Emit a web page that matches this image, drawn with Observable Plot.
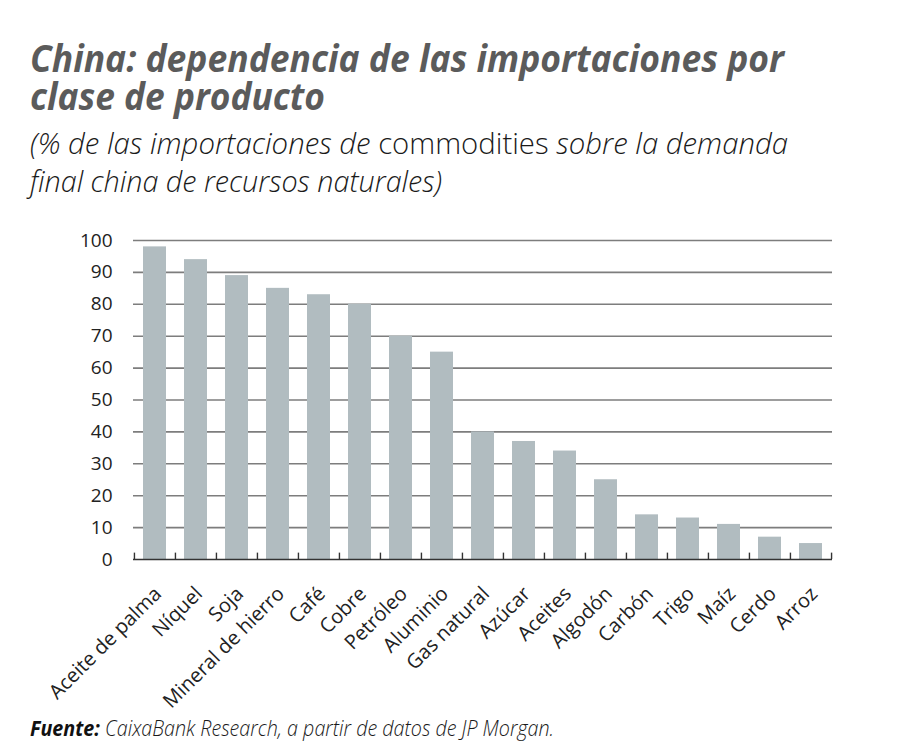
<!DOCTYPE html>
<html><head><meta charset="utf-8">
<script src="https://cdn.jsdelivr.net/npm/d3@7"></script>
<script src="https://cdn.jsdelivr.net/npm/@observablehq/plot@0.6"></script>
<style>
html,body{margin:0;padding:0;background:#fff}
body{width:920px;height:756px;position:relative;overflow:hidden;font-family:"Open Sans",sans-serif}
.line{position:absolute;left:30px;white-space:nowrap;transform-origin:0 0;display:inline-block}
.title{font-size:38px;line-height:32px;font-weight:700;font-style:italic;color:#5b5b5b}
.sub{font-size:30px;line-height:28px;font-weight:300;font-style:italic;color:#1a1a1a}
.sub .up{font-style:normal}
.src{font-size:22px;line-height:22px;font-weight:300;font-style:italic;color:#1a1a1a}
.src b{font-weight:700;color:#111}
#chart{position:absolute;left:0;top:215px}
</style></head><body>
<div class="line title" id="t1" data-w="754" style="top:41px">China: dependencia de las importaciones por</div>
<div class="line title" id="t2" data-w="295" style="top:79px">clase de producto</div>
<div class="line sub" id="s1" data-w="758" style="top:129px">(% de las importaciones de <span class="up">commodities</span> sobre la demanda</div>
<div class="line sub" id="s2" data-w="412" style="top:167px">final china de recursos naturales)</div>
<div id="chart"></div>
<div class="line src" id="c1" data-w="524" style="top:716px"><b>Fuente:</b> CaixaBank Research, a partir de datos de JP Morgan.</div>
<script>
const categories = ["Aceite de palma","Níquel","Soja","Mineral de hierro","Café","Cobre","Petróleo","Aluminio","Gas natural","Azúcar","Aceites","Algodón","Carbón","Trigo","Maíz","Cerdo","Arroz"];
const values = [98,94,89,85,83,80,70,65,40,37,34,25,14,13,11,7,5];
const yTicks = [0,10,20,30,40,50,60,70,80,90,100];

const data = categories.map((c,i)=>({cat:c, v:values[i]}));

const W = 920, ML = 133, MR = 88;
const step = (W - ML - MR) / categories.length;

const chart = Plot.plot({
  width: W,
  height: 500,
  marginLeft: ML,
  marginRight: MR,
  marginTop: 25,
  marginBottom: 156,
  style: {fontFamily: "'Open Sans', sans-serif", fontSize: "18px", color: "#222", background: "transparent", overflow: "visible"},
  x: {domain: categories, paddingInner: 0.43, paddingOuter: 0.215, axis: null},
  y: {domain: [0,100], ticks: yTicks, axis: null},
  marks: [
    Plot.ruleY(yTicks.filter(t=>t>0), {stroke:"#7d7d7d", strokeWidth:1.6}),
    Plot.barY(data, {x:"cat", y:"v", fill:"#b1bcc0"}),
    Plot.ruleY([0], {stroke:"#333", strokeWidth:1.6}),
    Plot.ruleX(categories, {x: d=>d, y1:0, y2:2, stroke:"#333", strokeWidth:1.4, dx: -step/2}),
    Plot.ruleX([categories[categories.length-1]], {x: d=>d, y1:0, y2:2, stroke:"#333", strokeWidth:1.4, dx: step/2}),
    Plot.axisY({ticks: yTicks, tickSize: 0, tickPadding: 21, fontSize: 19, label: null, fill:"#222"}),
    Plot.text(categories, {x: d=>d, y: 0, text: d=>d, rotate: -45, textAnchor: "end", dx: 3, dy: 31, fontSize: 20, fill: "#222"})
  ]
});
document.getElementById("chart").appendChild(chart);

// fit each text line to its measured width in the reference
document.querySelectorAll(".line").forEach(el=>{
  const target = +el.dataset.w;
  const w = el.getBoundingClientRect().width;
  if (w>0) el.style.transform = `scaleX(${target/w})`;
});
</script>
</body></html>
